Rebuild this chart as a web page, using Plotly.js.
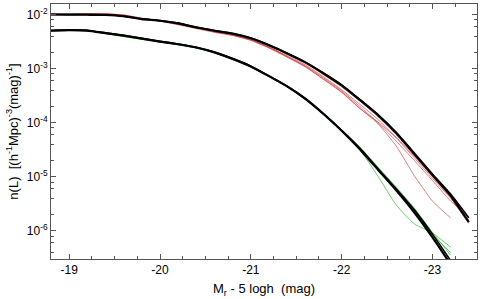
<!DOCTYPE html>
<html><head><meta charset="utf-8">
<script src="https://cdn.plot.ly/plotly-3.0.1.min.js"></script>
<style>html,body{margin:0;padding:0;background:#fff}</style>
</head><body><div id="chart" style="width:480px;height:299px"></div>
<script>
// absolute magnitude grid, M_r - 5 log h
const magnitude = [-18.8,-19.0,-19.2,-19.4,-19.6,-19.8,-20.0,-20.2,-20.4,-20.6,-20.8,-21.0,-21.2,-21.4,-21.6,-21.8,-22.0,-22.2,-22.4,-22.6,-22.8,-23.0,-23.2,-23.4];

// log10 n(L)
// upper family: thick black curves
const logN_upperBlackA = [-2.00,-2.003,-2.005,-2.009,-2.033,-2.086,-2.115,-2.165,-2.237,-2.30,-2.355,-2.44,-2.57,-2.72,-2.885,-3.09,-3.31,-3.58,-3.86,-4.19,-4.58,-4.97,-5.35,-5.84];
const logN_upperBlackB = [-1.995,-2.0,-2.0,-2.005,-2.03,-2.08,-2.11,-2.16,-2.235,-2.295,-2.35,-2.435,-2.565,-2.715,-2.88,-3.08,-3.30,-3.57,-3.85,-4.18,-4.56,-4.95,-5.32,-5.76];
// upper family: thin red curves
const logN_redA = [-2.00,-2.00,-1.995,-1.995,-2.02,-2.075,-2.115,-2.17,-2.24,-2.305,-2.36,-2.45,-2.58,-2.735,-2.90,-3.11,-3.34,-3.60,-3.89,-4.22,-4.60,-4.99,-5.36,-5.80];
const logN_redB = [-2.005,-2.005,-1.99,-1.99,-2.01,-2.07,-2.12,-2.175,-2.245,-2.31,-2.37,-2.46,-2.60,-2.76,-2.93,-3.15,-3.39,-3.66,-3.94,-4.28,-4.65,-5.03,-5.40,-5.86];
const logN_redC = [-2.01,-2.00,-2.00,-2.00,-2.025,-2.08,-2.12,-2.18,-2.25,-2.32,-2.38,-2.47,-2.61,-2.775,-2.95,-3.17,-3.41,-3.70,-4.00,-4.34,-4.70,-5.07,-5.45,-5.74];
const logN_redD = [-2.00,-1.995,-1.99,-1.99,-2.015,-2.07,-2.125,-2.19,-2.26,-2.33,-2.39,-2.48,-2.62,-2.79,-2.97,-3.20,-3.44,-3.74,-3.99,-4.27,-4.62,-5.00,-5.38,-5.83];
const logN_redE = [-2.00,-2.00,-1.99,-1.985,-2.01,-2.07,-2.12,-2.18,-2.25,-2.32,-2.38,-2.47,-2.61,-2.78,-2.96,-3.19,-3.43,-3.73,-4.02,-4.43,-4.98,-5.45,-5.76];
// lower family: thick black curves
const logN_lowerBlackA = [-2.30,-2.29,-2.30,-2.345,-2.39,-2.445,-2.50,-2.55,-2.61,-2.70,-2.82,-2.96,-3.14,-3.33,-3.56,-3.84,-4.15,-4.49,-4.87,-5.25,-5.66,-6.12,-6.62];
const logN_lowerBlackB = [-2.295,-2.285,-2.295,-2.34,-2.385,-2.44,-2.495,-2.545,-2.605,-2.695,-2.815,-2.955,-3.135,-3.325,-3.55,-3.83,-4.14,-4.47,-4.85,-5.22,-5.61,-6.06,-6.55];
// lower family: thin green curves
const logN_greenA = [-2.30,-2.28,-2.285,-2.35,-2.40,-2.455,-2.51,-2.56,-2.62,-2.71,-2.83,-2.97,-3.15,-3.34,-3.57,-3.85,-4.16,-4.50,-4.99,-5.52,-5.87,-6.04,-6.30];
const logN_greenB = [-2.295,-2.28,-2.29,-2.35,-2.41,-2.46,-2.505,-2.56,-2.62,-2.71,-2.83,-2.97,-3.15,-3.34,-3.57,-3.83,-4.13,-4.45,-4.82,-5.19,-5.58,-6.03,-6.45];
const logN_greenC = [-2.30,-2.285,-2.295,-2.355,-2.40,-2.455,-2.51,-2.555,-2.615,-2.705,-2.825,-2.965,-3.145,-3.335,-3.565,-3.85,-4.15,-4.47,-4.84,-5.21,-5.61,-6.07,-6.40];
const logN_greenD = [-2.305,-2.29,-2.30,-2.35,-2.395,-2.45,-2.505,-2.555,-2.615,-2.71,-2.83,-2.965,-3.14,-3.335,-3.565,-3.845,-4.16,-4.48,-4.86,-5.22,-5.60,-6.10,-6.55];

const xTickVals = [-19,-20,-21,-22,-23];
const xTickText = ['-19','-20','-21','-22','-23'];
const yTickVals = [1e-6,1e-5,1e-4,1e-3,1e-2];
const yTickText = ['10<sup>-6</sup>','10<sup>-5</sup>','10<sup>-4</sup>','10<sup>-3</sup>','10<sup>-2</sup>'];
const yMinorVals = [];
[1e-7,1e-6,1e-5,1e-4,1e-3,1e-2].forEach(d => [2,4,6,8].forEach(m => yMinorVals.push(m*d)));

const toDensity = a => a.map(v => Math.pow(10, v));
function curve(logY, color, width) {
  return {x: magnitude.slice(0, logY.length), y: toDensity(logY), type:'scatter', mode:'lines',
    line:{color:color, width:width, shape:'spline', smoothing:0.5}, hoverinfo:'skip', showlegend:false};
}
const RED = 'rgba(195,45,45,0.6)';
const GREEN = 'rgba(40,185,40,0.7)';
const traces = [
  curve(logN_redA, RED, 1), curve(logN_redB, RED, 1), curve(logN_redC, RED, 1),
  curve(logN_redD, RED, 1), curve(logN_redE, RED, 1),
  curve(logN_greenA, GREEN, 1), curve(logN_greenB, GREEN, 1), curve(logN_greenC, GREEN, 1), curve(logN_greenD, GREEN, 1),
  curve(logN_upperBlackA, '#000', 2.2), curve(logN_upperBlackB, '#000', 1.6),
  curve(logN_lowerBlackA, '#000', 2.2), curve(logN_lowerBlackB, '#000', 1.6)
];

const AX = '#555';
const layout = {
  width:480, height:299,
  margin:{l:51, r:3, t:4, b:40},
  paper_bgcolor:'#fff', plot_bgcolor:'#fff',
  font:{family:'"Liberation Sans", Arial, sans-serif', size:12, color:'#000'},
  showlegend:false,
  xaxis:{range:[-18.8,-23.49], tickmode:'array', tickvals:xTickVals, ticktext:xTickText,
    ticks:'inside', ticklen:5, tickcolor:AX, tickwidth:1, showline:true, linecolor:AX, linewidth:1,
    mirror:'ticks', showgrid:false, zeroline:false,
    minor:{tick0:-19, dtick:0.25, ticks:'inside', ticklen:3, tickcolor:AX, showgrid:false},
    title:{text:'M<sub>r</sub> - 5 logh  (mag)', standoff:7, font:{size:13}}},
  yaxis:{type:'log', range:[-6.52,-1.806], tickmode:'array', tickvals:yTickVals, ticktext:yTickText,
    ticks:'inside', ticklen:5, tickcolor:AX, tickwidth:1, showline:true, linecolor:AX, linewidth:1,
    mirror:'ticks', showgrid:false, zeroline:false,
    minor:{tickmode:'array', tickvals:yMinorVals, ticks:'inside', ticklen:3, tickcolor:AX, showgrid:false},
    title:{text:'n(L)  [(h<sup>-1</sup>Mpc)<sup>-3</sup>(mag)<sup>-1</sup>]', standoff:5, font:{size:13}}}
};
Plotly.newPlot('chart', traces, layout, {displayModeBar:false, staticPlot:true});
</script></body></html>
